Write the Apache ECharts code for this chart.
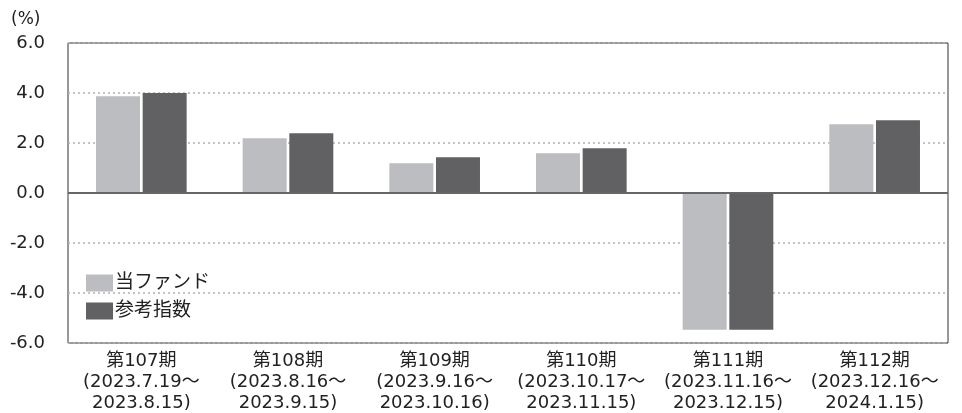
<!DOCTYPE html>
<html><head><meta charset="utf-8">
<script src="https://cdn.jsdelivr.net/npm/echarts@6/dist/echarts.min.js"></script>
<style>html,body{margin:0;padding:0;background:#fff}#c{width:962px;height:413px}</style>
</head><body><div id="c"></div>
<script>
const categories = ['第107期\n(2023.7.19～\n2023.8.15)','第108期\n(2023.8.16～\n2023.9.15)','第109期\n(2023.9.16～\n2023.10.16)','第110期\n(2023.10.17～\n2023.11.15)','第111期\n(2023.11.16～\n2023.12.15)','第112期\n(2023.12.16～\n2024.1.15)'];
const fundValues = [3.87, 2.19, 1.19, 1.59, -5.47, 2.75];
const indexValues = [4.00, 2.39, 1.43, 1.79, -5.47, 2.91];
const seriesNames = ['当ファンド', '参考指数'];
const yTicks = { min: -6, max: 6, interval: 2 };

const FONT = '"DejaVu Sans", "Noto Sans CJK JP", sans-serif';
const chart = echarts.init(document.getElementById('c'), null, { renderer: 'canvas' });
chart.setOption({
  animation: false,
  textStyle: { fontFamily: FONT },
  grid: { left: 68, right: 14, top: 43, bottom: 70, show: true, borderColor: '#333', borderWidth: 1, backgroundColor: '#fff', outerBoundsMode: 'none', containLabel: false },
  graphic: [{ type: 'text', left: 11, top: 11, style: { text: '(%)', font: '17px ' + FONT, fill: '#222' } }],
  legend: {
    orient: 'vertical', left: 81, top: 268, itemWidth: 27, itemHeight: 17, itemGap: 8,
    icon: 'rect', textStyle: { fontSize: 19, lineHeight: 20, color: '#222', padding: [0, 0, 0, -3] },
    data: seriesNames
  },
  xAxis: {
    type: 'category', data: categories,
    axisLine: { show: false }, axisTick: { show: false },
    axisLabel: { color: '#222', fontSize: 18, lineHeight: 21, margin: 8, interval: 0 }
  },
  yAxis: {
    type: 'value', min: yTicks.min, max: yTicks.max, interval: yTicks.interval,
    axisLine: { show: false }, axisTick: { show: false },
    axisLabel: { color: '#222', fontSize: 18, margin: 23, formatter: v => v.toFixed(1) },
    splitLine: { show: true, lineStyle: { color: '#b0b0b0', type: [2, 3], width: 1.5 } }
  },
  series: [
    { name: seriesNames[0], type: 'bar', data: fundValues, barWidth: 44, barGap: '6%',
      itemStyle: { color: '#bcbdc0' },
      markLine: { silent: true, symbol: 'none', label: { show: false },
        lineStyle: { color: '#666', type: 'solid', width: 2 }, data: [{ yAxis: 0 }] } },
    { name: seriesNames[1], type: 'bar', data: indexValues, barWidth: 44,
      itemStyle: { color: '#616163' } }
  ]
});
</script></body></html>
